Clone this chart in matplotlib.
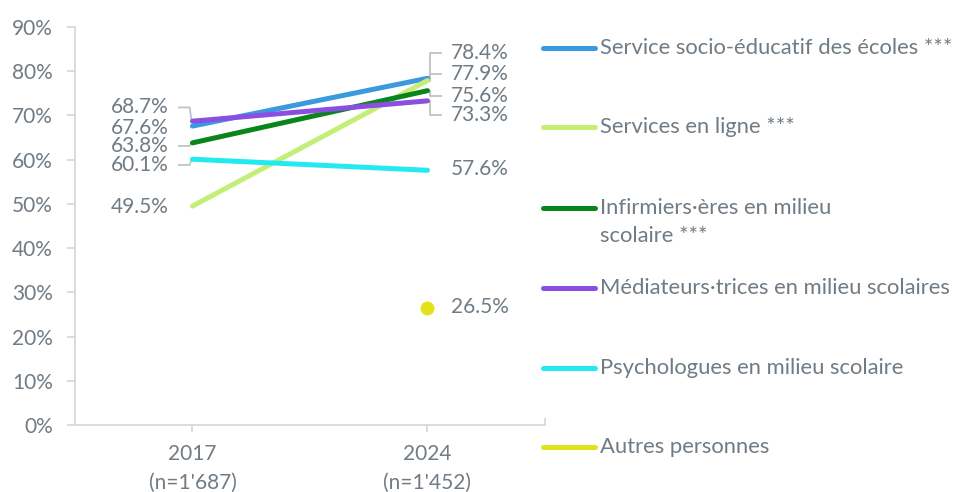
import matplotlib
matplotlib.use('Agg')
import matplotlib.pyplot as plt
from matplotlib.lines import Line2D

plt.rcParams['font.family'] = ['Lato', 'DejaVu Sans']

# ---- Data ----
years = ['2017\n(n=1\'687)', '2024\n(n=1\'452)']
series = [
    'Service socio-éducatif des écoles ***',
    'Services en ligne ***',
    'Infirmiers·ères en milieu\nscolaire ***',
    'Médiateurs·trices en milieu scolaires',
    'Psychologues en milieu scolaire',
    'Autres personnes',
]
vals_2017 = [67.6, 49.5, 63.8, 68.7, 60.1, None]
vals_2024 = [78.4, 77.9, 75.6, 73.3, 57.6, 26.5]
colors = ['#3b99e0', '#c3ef78', '#0a851c', '#8b4ee2', '#22eaf2', '#e2e21c']

# label placement (y position of the text, whether a leader line is drawn)
left_lab_y = [67.2, 49.4, 63.1, 71.8, 58.8, None]
left_leader = [False, False, True, True, True, False]
right_lab_y = [84.1, 79.3, 74.3, 70.0, 57.9, 26.7]
right_leader = [True, True, True, True, False, False]

txt_col = '#707b84'
grid_col = '#d9d9d9'
lead_col = '#bfc3c6'
W, H = 960, 492

fig = plt.figure(figsize=(W / 100, H / 100), dpi=100)
ax = fig.add_axes([75 / W, 1 - 425 / H, 470 / W, 398 / H])

for i, name in enumerate(series):
    if vals_2017[i] is not None:
        ax.plot([0, 1], [vals_2017[i], vals_2024[i]], color=colors[i], lw=3.6,
                solid_capstyle='round', zorder=3)
    else:
        ax.plot([1], [vals_2024[i]], 'o', color=colors[i], ms=9, zorder=3)

# data labels
for i in range(len(series)):
    if vals_2017[i] is not None:
        ly = left_lab_y[i]
        ax.text(-0.1, ly, f'{vals_2017[i]:.1f}%', ha='right', va='center',
                fontsize=15, color=txt_col)
        if left_leader[i]:
            ax.plot([-0.058, -0.012, -0.004], [ly, ly, vals_2017[i]],
                    color=lead_col, lw=1.3, zorder=2)
    ly = right_lab_y[i]
    ax.text(1.1, ly, f'{vals_2024[i]:.1f}%', ha='left', va='center',
            fontsize=15, color=txt_col)
    if right_leader[i]:
        ax.plot([1.009, 1.009, 1.058], [vals_2024[i], ly, ly],
                color=lead_col, lw=1.3, zorder=2)

ax.set_xlim(-0.5, 1.5)
ax.set_ylim(0, 90)
ax.set_yticks(range(0, 91, 10))
ax.set_yticklabels([f'{v}%' for v in range(0, 91, 10)])
ax.set_xticks([0, 1])
ax.set_xticklabels(years, linespacing=1.55)
ax.set_xticks([1.5], minor=True)

for s in ['top', 'right']:
    ax.spines[s].set_visible(False)
for s in ['left', 'bottom']:
    ax.spines[s].set_color(grid_col)
    ax.spines[s].set_linewidth(1.3)
ax.tick_params(axis='y', colors=grid_col, labelcolor=txt_col, labelsize=15,
               length=6, width=1.3, pad=10)
ax.tick_params(axis='x', which='both', colors=grid_col, labelcolor=txt_col,
               labelsize=15, length=5, width=1.3, direction='in', pad=9)
ax.tick_params(axis='x', which='major', direction='out')

# legend drawn by hand on the right
leg_y = [48, 127, 208, 288, 368, 447]
for i, name in enumerate(series):
    y = 1 - leg_y[i] / H
    fig.add_artist(Line2D([543 / W, 595 / W], [y, y], color=colors[i], lw=3.6,
                          solid_capstyle='round', transform=fig.transFigure))
    for j, line in enumerate(name.split('\n')):
        fig.text(600 / W, 1 - (leg_y[i] + 28 * j) / H, line, ha='left',
                 va='center', fontsize=15.8, color=txt_col)

fig.savefig('out.png', dpi=100)
